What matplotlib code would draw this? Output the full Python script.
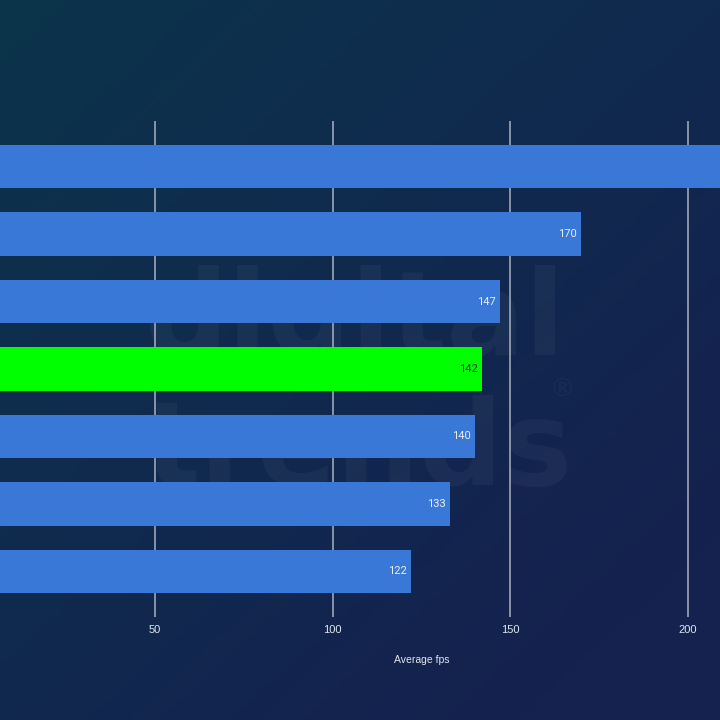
import numpy as np
import matplotlib.pyplot as plt
from matplotlib.colors import LinearSegmentedColormap

# bars listed top to bottom; the first one runs off the right edge in the source
values = [228, 170, 147, 142, 140, 133, 122]
highlight = 3
ticks = [50, 100, 150, 200]
xlabel = "Average fps"

W, H = 720, 720
fig = plt.figure(figsize=(7.2, 7.2), dpi=100)

# background gradient (teal top-left -> navy bottom-right)
bg = fig.add_axes([0, 0, 1, 1], zorder=0)
yy, xx = np.mgrid[0:1:200j, 0:1:200j]
t = np.clip(0.55 * xx + 0.6 * yy, 0, 1)
cmap = LinearSegmentedColormap.from_list("bg", ["#0b344a", "#102a4e", "#15214f"])
bg.imshow(t, cmap=cmap, extent=[0, 1, 0, 1], origin="upper", aspect="auto")
bg.set_axis_off()

# watermark
bg.text(145 / W, 1 - 355 / H, "digital", fontsize=84, fontweight="bold",
        color="white", alpha=0.04, ha="left", va="baseline", family="DejaVu Sans")
bg.text(145 / W, 1 - 485 / H, "trends", fontsize=84, fontweight="bold",
        color="white", alpha=0.04, ha="left", va="baseline", family="DejaVu Sans")
bg.text(562 / W, 1 - 390 / H, "®", fontsize=18,
        color="white", alpha=0.04, ha="center", va="center", family="DejaVu Sans")

# main axes: x=0 sits just left of the canvas, 50 units ~ 177.7 px
px_per_unit = (688 - 155) / 150
x0_px = 155 - 50 * px_per_unit
xmax = 240
ax_left = x0_px / W
ax_w = xmax * px_per_unit / W
ax_top, ax_bot = 121, 617
ax = fig.add_axes([ax_left, 1 - ax_bot / H, ax_w, (ax_bot - ax_top) / H], zorder=1)
ax.patch.set_alpha(0)

y = np.arange(len(values))
colors = ["#3a78d8"] * len(values)
colors[highlight] = "#00ff00"
ax.barh(y, values, height=0.65, color=colors, zorder=3)

for i, v in enumerate(values):
    ax.text(v - 1.2, i, str(v), ha="right", va="center", fontsize=8,
            color="#142a1a" if i == highlight else "#e8eefa",
            family="Roboto", zorder=4, clip_on=True)

ax.set_xlim(0, xmax)
ax.set_ylim(len(values) - 1 + 0.675, -0.675)
ax.set_xticks(ticks)
ax.set_xticklabels([str(tk) for tk in ticks], family="Liberation Sans")
ax.set_yticks([])
ax.grid(axis="x", color="#a9b1c2", linewidth=1.1, zorder=1)
ax.tick_params(axis="x", length=0, pad=6, labelsize=8, labelcolor="#dfe5f0")
for s in ax.spines.values():
    s.set_visible(False)

ax.set_xlabel(xlabel, fontsize=7.5, color="#dfe5f0", family="Liberation Sans")
ax.xaxis.set_label_coords((422 - x0_px) / (xmax * px_per_unit), -(655 - ax_bot) / (ax_bot - ax_top))

fig.savefig("out.png", dpi=100)
